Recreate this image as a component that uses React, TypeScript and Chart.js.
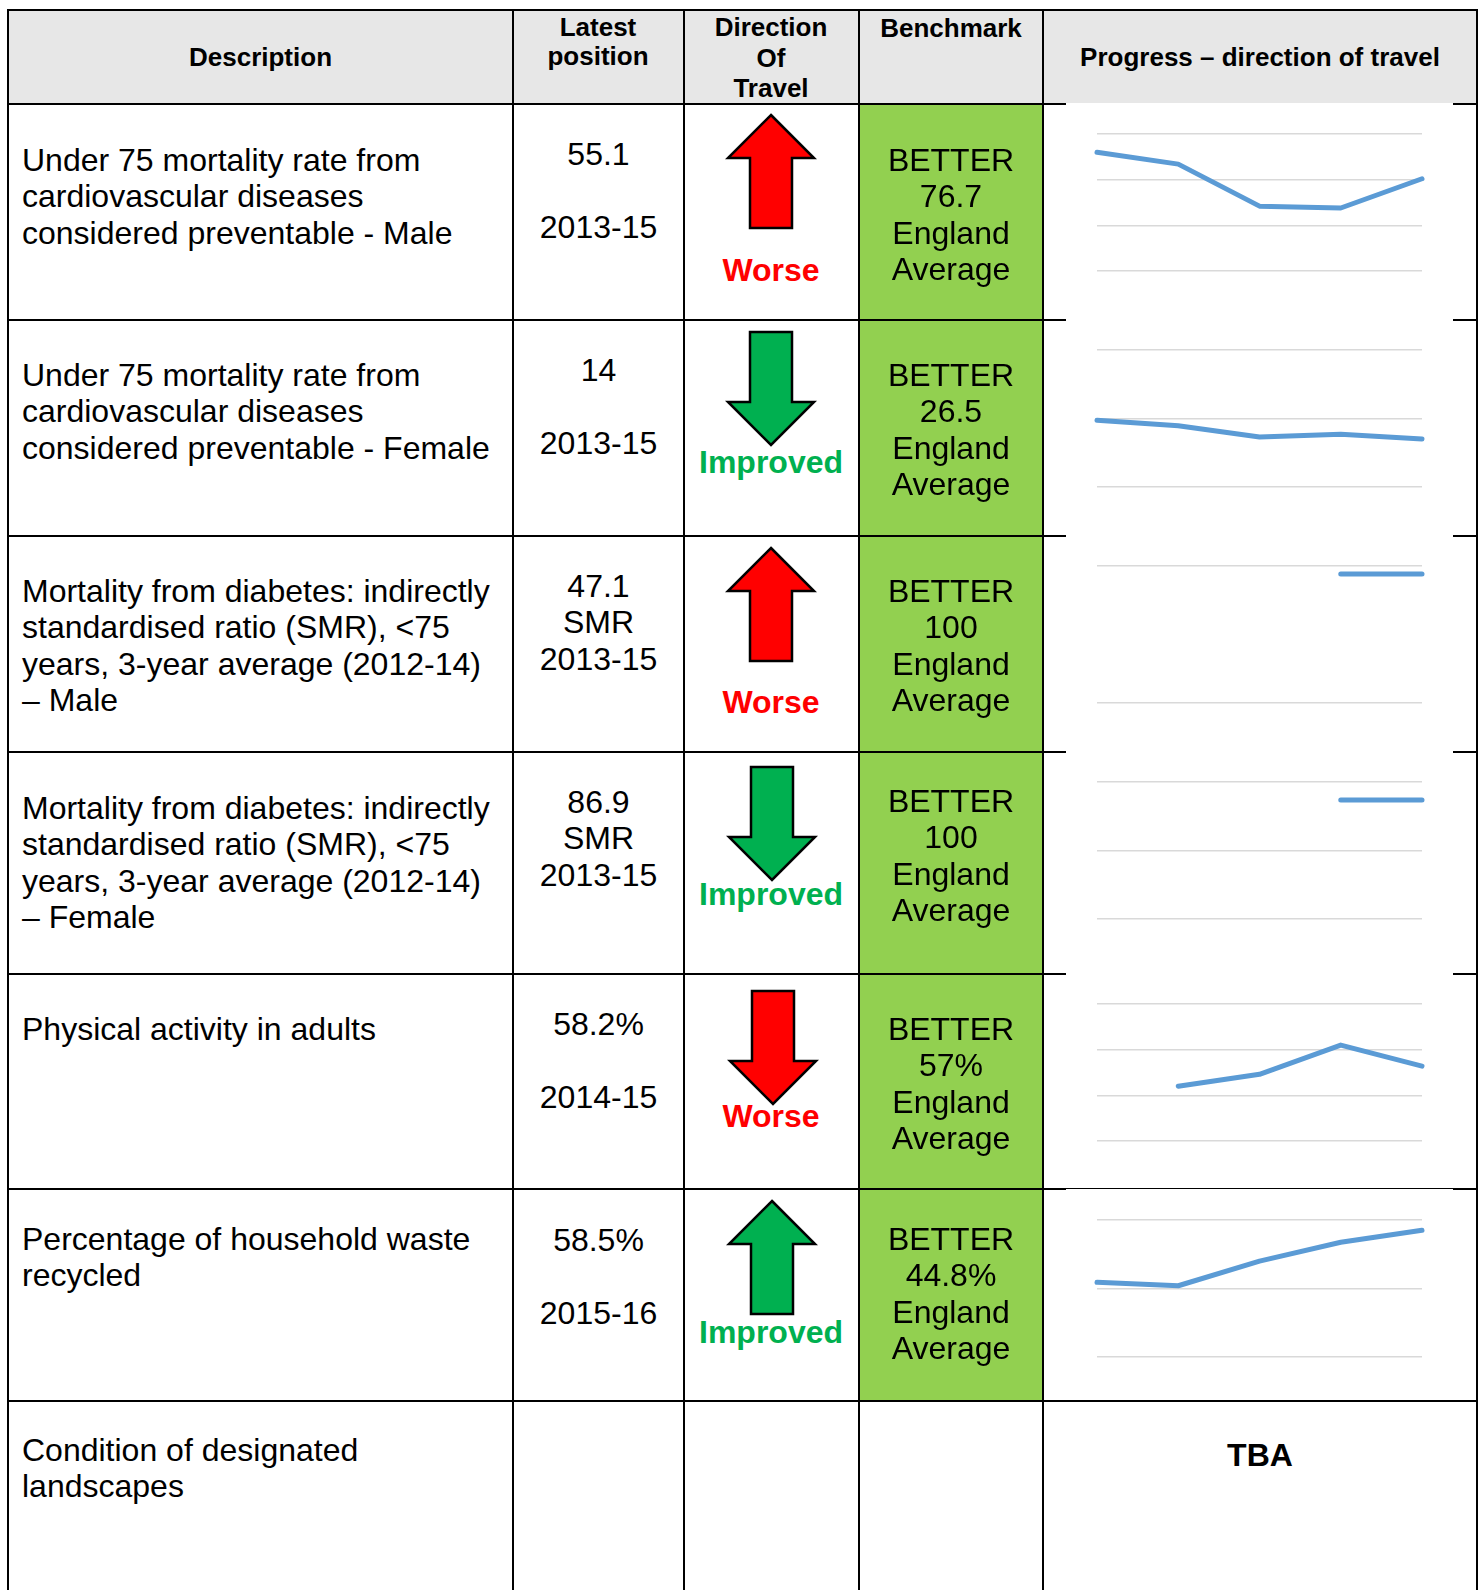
import React, { useEffect, useRef } from "react";
import { Chart, registerables } from "chart.js";

Chart.register(...registerables);

// ---------------- DATA ----------------
const headerDescription = ["Description"];
const headerLatest = ["Latest", "position"];
const headerDirection = ["Direction", "Of", "Travel"];
const headerBenchmark = ["Benchmark"];
const headerProgress = ["Progress \u2013 direction of travel"];

const descriptions: string[][] = [
  ["Under 75 mortality rate from", "cardiovascular diseases", "considered preventable - Male"],
  ["Under 75 mortality rate from", "cardiovascular diseases", "considered preventable - Female"],
  ["Mortality from diabetes: indirectly", "standardised ratio (SMR), <75", "years, 3-year average (2012-14)", "\u2013 Male"],
  ["Mortality from diabetes: indirectly", "standardised ratio (SMR), <75", "years, 3-year average (2012-14)", "\u2013 Female"],
  ["Physical activity in adults"],
  ["Percentage of household waste", "recycled"],
  ["Condition of designated", "landscapes"],
];

const latestValues = ["55.1", "14", "47.1", "86.9", "58.2%", "58.5%", ""];
const latestUnits = ["", "", "SMR", "SMR", "", "", ""];
const latestPeriods = ["2013-15", "2013-15", "2013-15", "2013-15", "2014-15", "2015-16", ""];

const directions: (string | null)[] = ["up", "down", "up", "down", "down", "up", null];
const directionLabels = ["Worse", "Improved", "Worse", "Improved", "Worse", "Improved", ""];

const benchmarkRatings = ["BETTER", "BETTER", "BETTER", "BETTER", "BETTER", "BETTER"];
const benchmarkValues = ["76.7", "26.5", "100", "100", "57%", "44.8%"];
const benchmarkLabel = ["England", "Average"];

const sparkPeriods = ["Period 1", "Period 2", "Period 3", "Period 4", "Period 5"];
const seriesCvdMale = [58.0, 56.7, 52.1, 51.9, 55.1];
const seriesCvdFemale = [19.5, 17.9, 14.6, 15.4, 14.0];
const seriesDiabetesMale = [null, null, null, 47.1, 47.1];
const seriesDiabetesFemale = [null, null, null, 86.9, 86.9];
const seriesActivity = [null, 56.0, 57.3, 60.5, 58.2];
const seriesRecycling = [50.9, 50.4, 54.0, 56.75, 58.5];
const sparkSeries = [seriesCvdMale, seriesCvdFemale, seriesDiabetesMale, seriesDiabetesFemale, seriesActivity, seriesRecycling];
const axisMin = [45, 0, 0, 0, 50, 40];
const axisMax = [60, 40, 50, 100, 65, 60];
const axisStep = [5, 20, 50, 50, 5, 10];
const progressNote = "TBA";

// ---------------- LAYOUT ----------------
const FONT = '"Liberation Sans", Arial, Helvetica, sans-serif';
const colX = [8, 513, 684, 859, 1043, 1477];
const rowY = [10, 104, 320, 536, 752, 974, 1189, 1401, 1620];
const descOffset = [56, 55, 55, 56, 55, 50, 49];
const latestOffset = [50, 50, 50, 50, 50, 51];
const benchOffset = [56, 55, 55, 49, 55, 50];
const arrowTop = [11, 12, 11.7, 15, 16.7, 11.7];
const arrowCx = [771, 770.5, 771, 772, 773, 772];
const labelOffset = [166, 142, 166, 142.5, 142, 143.7];
const sparkTopShift = [-1, -1, -1, -1, -1, 0];
const LH = 36.5;

type TBProps = {
  lines: string[];
  x: number;
  y: number; // center of first line
  align?: "left" | "center";
  size?: number;
  lh?: number;
  bold?: boolean;
  color?: string;
};

function TextBlock({ lines, x, y, align = "center", size = 32, lh = LH, bold = false, color = "#000" }: TBProps) {
  const style: React.CSSProperties = {
    position: "absolute",
    top: y - lh / 2,
    fontFamily: FONT,
    fontSize: size,
    lineHeight: lh + "px",
    fontWeight: bold ? "bold" : "normal",
    color,
    whiteSpace: "pre",
    zIndex: 3,
  };
  if (align === "center") {
    style.left = x - 250;
    style.width = 500;
    style.textAlign = "center";
  } else {
    style.left = x;
  }
  return (
    <div style={style}>
      {lines.map((l, i) => (
        <div key={i}>{l === "" ? "\u00a0" : l}</div>
      ))}
    </div>
  );
}

function Arrow({ dir, cx, top, fill }: { dir: string; cx: number; top: number; fill: string }) {
  const up = "M43 0 L86 43 L64 43 L64 113 L22 113 L22 43 L0 43 Z";
  const down = "M22 0 L64 0 L64 70 L86 70 L43 113 L0 70 L22 70 Z";
  return (
    <svg
      width={92}
      height={119}
      viewBox="-3 -3 92 119"
      style={{ position: "absolute", left: cx - 46, top: top - 3, zIndex: 3 }}
    >
      <path d={dir === "up" ? up : down} fill={fill} stroke="#000" strokeWidth={2.5} strokeLinejoin="miter" />
    </svg>
  );
}

function Spark({ idx, top }: { idx: number; top: number }) {
  const ref = useRef<HTMLCanvasElement | null>(null);
  useEffect(() => {
    if (!ref.current) return;
    const chart = new Chart(ref.current, {
      type: "line",
      data: {
        labels: sparkPeriods,
        datasets: [
          {
            data: sparkSeries[idx] as any,
            borderColor: "#5B9BD5",
            borderWidth: 5,
            pointRadius: 0,
            pointHoverRadius: 0,
            borderCapStyle: "round",
            borderJoinStyle: "round",
            tension: 0,
            fill: false,
            spanGaps: false,
            clip: 6,
          } as any,
        ],
      },
      options: {
        animation: false,
        responsive: false,
        maintainAspectRatio: false,
        events: [],
        layout: { padding: { left: 31, right: 31, top: 31, bottom: 32 } },
        plugins: { legend: { display: false }, tooltip: { enabled: false }, title: { display: false } },
        scales: {
          x: { display: false, offset: false },
          y: {
            min: axisMin[idx],
            max: axisMax[idx],
            ticks: { stepSize: axisStep[idx], display: false },
            border: { display: false },
            grid: { color: "#D9D9D9", lineWidth: 1.5, drawTicks: false },
            afterFit: (a: any) => {
              a.width = 0;
            },
          } as any,
        },
      },
    });
    return () => chart.destroy();
  }, [idx]);
  return (
    <canvas
      ref={ref}
      width={387}
      height={200}
      style={{ position: "absolute", left: 1066, top, width: 387, height: 200, background: "#fff", zIndex: 2 }}
    />
  );
}

export default function App() {
  const nRows = descriptions.length;
  const lines: React.ReactNode[] = [];
  // horizontal lines
  rowY.slice(0, rowY.length - 1).forEach((y, i) => {
    lines.push(
      <div
        key={"h" + i}
        style={{ position: "absolute", left: colX[0] - 1, top: y - 1, width: colX[5] - colX[0] + 2, height: 2, background: "#000", zIndex: 1 }}
      />
    );
  });
  colX.forEach((x, i) => {
    lines.push(
      <div
        key={"v" + i}
        style={{ position: "absolute", left: x - 1, top: rowY[0] - 1, width: 2, height: 1700, background: "#000", zIndex: 1 }}
      />
    );
  });

  return (
    <div style={{ position: "absolute", left: 0, top: 0, width: 1482, height: 1590, overflow: "hidden", background: "#fff" }}>
      {/* header background */}
      <div style={{ position: "absolute", left: colX[0], top: rowY[0], width: colX[5] - colX[0], height: rowY[1] - rowY[0], background: "#E7E7E7" }} />
      {/* benchmark green */}
      <div style={{ position: "absolute", left: colX[3], top: rowY[1], width: colX[4] - colX[3], height: rowY[7] - rowY[1], background: "#92D050" }} />
      {lines}

      {/* header texts */}
      <TextBlock lines={headerDescription} x={(colX[0] + colX[1]) / 2} y={57} size={26} lh={30} bold />
      <TextBlock lines={headerLatest} x={598} y={27.5} size={26} lh={29.5} bold />
      <TextBlock lines={headerDirection} x={771} y={27.5} size={26} lh={30.3} bold />
      <TextBlock lines={headerBenchmark} x={951} y={27.5} size={26} lh={30} bold />
      <TextBlock lines={headerProgress} x={1260} y={57} size={26} lh={30} bold />

      {descriptions.map((d, i) => (
        <TextBlock key={"d" + i} lines={d} x={22} y={rowY[i + 1] + descOffset[i]} align="left" />
      ))}

      {latestValues.map((v, i) =>
        v ? (
          <TextBlock
            key={"l" + i}
            lines={[v, latestUnits[i], latestPeriods[i]]}
            x={598.5}
            y={rowY[i + 1] + latestOffset[i]}
          />
        ) : null
      )}

      {directions.map((dir, i) =>
        dir ? (
          <React.Fragment key={"a" + i}>
            <Arrow
              dir={dir}
              cx={arrowCx[i]}
              top={rowY[i + 1] + arrowTop[i]}
              fill={directionLabels[i] === "Worse" ? "#FF0000" : "#00B050"}
            />
            <TextBlock
              lines={[directionLabels[i]]}
              x={771}
              y={rowY[i + 1] + labelOffset[i]}
              bold
              color={directionLabels[i] === "Worse" ? "#FF0000" : "#00B050"}
            />
          </React.Fragment>
        ) : null
      )}

      {benchmarkValues.map((v, i) => (
        <TextBlock
          key={"b" + i}
          lines={[benchmarkRatings[i], v, ...benchmarkLabel]}
          x={951}
          y={rowY[i + 1] + benchOffset[i]}
        />
      ))}

      {sparkSeries.map((_, i) => (
        <Spark key={"s" + i} idx={i} top={rowY[i + 1] + sparkTopShift[i]} />
      ))}

      <TextBlock lines={[progressNote]} x={1260} y={rowY[nRows] + 54} bold />
    </div>
  );
}
